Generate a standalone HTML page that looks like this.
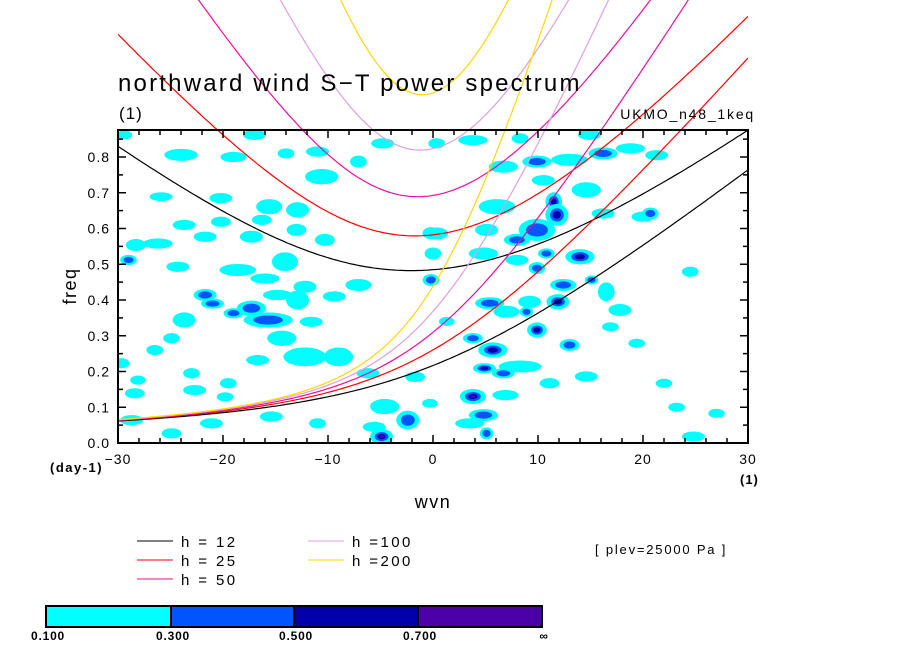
<!DOCTYPE html>
<html><head><meta charset="utf-8"><style>
body{margin:0;background:#fff;}
svg text{font-family:"Liberation Sans",sans-serif;}
</style></head><body>
<svg id="chart" width="904" height="654" viewBox="0 0 904 654" xmlns="http://www.w3.org/2000/svg">
<defs><clipPath id="plotclip"><rect x="118" y="0" width="630" height="443"/></clipPath>
<clipPath id="boxclip"><rect x="118" y="130" width="630" height="313"/></clipPath></defs>
<rect width="904" height="654" fill="#fff"/>
<g id="blobs" clip-path="url(#boxclip)"></g>
<g id="curves" clip-path="url(#plotclip)"></g>
<rect x="118" y="130" width="630" height="313" fill="none" stroke="#000" stroke-width="2"/>
<g id="ticks"></g>
<text x="118" y="91" font-size="24" letter-spacing="2.2">northward wind S−T power spectrum</text>
<text x="119" y="119" font-size="17" letter-spacing="1">(1)</text>
<text x="755" y="119" font-size="14" letter-spacing="1.8" text-anchor="end">UKMO_n48_1keq</text>
<text x="76" y="286" font-size="18" letter-spacing="1.5" transform="rotate(-90 76 286)" text-anchor="middle">freq</text>
<text x="433" y="508" font-size="18" letter-spacing="1.5" text-anchor="middle">wvn</text>
<text x="50" y="472" font-size="13" font-weight="bold" letter-spacing="1.5">(day-1)</text>
<text x="740" y="484" font-size="13" font-weight="bold" letter-spacing="1">(1)</text>
<g id="legend" font-size="15" letter-spacing="2.4">
 <line x1="137" y1="541" x2="173" y2="541" stroke="#000"/><text x="181" y="547">h = 12</text>
 <line x1="137" y1="560" x2="173" y2="560" stroke="#f00"/><text x="181" y="566">h = 25</text>
 <line x1="137" y1="579" x2="173" y2="579" stroke="#e0109a"/><text x="181" y="585">h = 50</text>
 <line x1="308" y1="541" x2="344" y2="541" stroke="#dda0dd"/><text x="352" y="547">h =100</text>
 <line x1="308" y1="560" x2="344" y2="560" stroke="#ffd700"/><text x="352" y="566">h =200</text>
</g>
<text x="595" y="554" font-size="13" letter-spacing="1.8">[ plev=25000 Pa ]</text>
<g id="cbar"></g>
</svg>
<script>
// ---- data ----
const depths = [12, 25, 50, 100, 200];
const depthColors = ["#000000", "#ff0000", "#e8109e", "#dda0dd", "#ffd700"];
const xTicks = [-30, -20, -10, 0, 10, 20, 30];
const yTicks = [0.0, 0.1, 0.2, 0.3, 0.4, 0.5, 0.6, 0.7, 0.8];
const levelLabels = ["0.100", "0.300", "0.500", "0.700", "∞"];
const levelColors = ["#00ffff", "#0055ff", "#0000aa", "#4c00a8"];
// contour patches: wavenumber, frequency, width (wvn), height (freq), level
const blobK = [-29.4,-24,-17,-19,-14,-10.6,-7.1,-4.8,-11,-25.9,-20.2,-15.6,-12.9,-16.3,-23.7,-20.2,-17.3,-13,-10.3,-28.3,-26.2,-21.7,-0.2,-24.3,-18.6,-14.1,-7.1,-12.2,-16,-29,-21.7,-21,-14.8,-12.9,-17.3,-19,-15.7,-23.7,-11.6,-9.4,-0.2,-14.4,-24.9,-12.2,-9,-16.7,-29.7,-26.5,-6.2,-23,-28.1,-19.5,-28.4,-22.7,-19.8,-1.7,-4.6,-2.4,-4.9,-5.6,-28.7,-24.9,-21.1,-15.4,-11,
 0.35,3.8,8.3,14.9,16.2,9.9,6.7,13,18.8,21.3,10.5,14.6,6.1,11.5,11.8,0.35,5.1,9.9,8,16.2,20,14,10.8,8,9.9,0,4.8,12.4,15.1,16.5,11.9,5.4,9.2,7,8.9,9.9,3.8,5.7,13,4.9,8.3,6.7,11.1,3.8,6.9,4.8,3.5,5.1,-0.3,17.8,24.5,19.4,14.6,22,23.2,27,24.8,16.9,20.7,1.3];
const blobF = [0.862,0.806,0.862,0.8,0.81,0.745,0.787,0.838,0.815,0.689,0.685,0.661,0.652,0.624,0.61,0.619,0.577,0.596,0.568,0.554,0.558,0.577,0.587,0.493,0.484,0.507,0.442,0.437,0.46,0.512,0.414,0.39,0.414,0.4,0.377,0.363,0.344,0.344,0.339,0.41,0.456,0.293,0.293,0.241,0.241,0.232,0.223,0.26,0.195,0.195,0.176,0.167,0.139,0.148,0.129,0.185,0.102,0.064,0.018,0.045,0.064,0.027,0.055,0.074,0.055,
 0.838,0.847,0.852,0.862,0.81,0.787,0.773,0.792,0.824,0.805,0.735,0.708,0.661,0.675,0.638,0.586,0.596,0.596,0.568,0.642,0.633,0.521,0.53,0.512,0.489,0.53,0.53,0.442,0.456,0.423,0.395,0.391,0.395,0.367,0.367,0.316,0.293,0.26,0.274,0.209,0.214,0.195,0.167,0.13,0.134,0.078,0.055,0.027,0.111,0.372,0.479,0.279,0.186,0.167,0.1,0.083,0.018,0.325,0.642,0.34];
const blobW = [1.2,2.9,1.9,2.2,1.3,2.9,1.3,1.9,1.9,1.9,1.9,2.2,1.9,1.6,1.9,1.6,1.9,1.6,1.6,1.6,2.5,1.9,1.3,1.9,3.2,2.2,2.2,1.9,2.5,1.3,1.9,1.9,2.5,1.9,2.5,1.6,4.4,1.9,1.9,1.9,1.3,2.5,1.3,3.8,2.5,1.9,1.3,1.3,1.9,1.3,1.2,1.3,1.6,1.9,1.3,1.6,2.5,1.9,1.9,1.9,1.9,1.6,1.9,1.9,1.3,
 1.3,2.5,1.3,1.9,2.5,2.5,2.5,3.2,2.5,1.9,1.9,2.5,3.2,1.3,1.9,1.9,1.9,3.2,2.2,1.9,1.9,2.5,1.3,1.9,1.3,1.3,2.5,2.2,1.0,1.3,1.9,2.5,1.9,2.2,1.0,1.6,1.6,2.5,1.6,1.9,3.8,1.9,1.6,2.2,2.2,2.5,2.5,1.0,1.2,1.9,1.3,1.3,1.9,1.3,1.3,1.3,1.9,1.3,1.3,1.2];
const blobH = [0.02,0.028,0.023,0.023,0.023,0.037,0.028,0.023,0.023,0.019,0.023,0.037,0.037,0.023,0.023,0.023,0.028,0.028,0.028,0.028,0.023,0.023,0.028,0.023,0.028,0.047,0.028,0.028,0.023,0.023,0.028,0.023,0.023,0.047,0.037,0.023,0.037,0.037,0.023,0.023,0.028,0.037,0.023,0.047,0.047,0.023,0.023,0.023,0.023,0.023,0.02,0.023,0.023,0.023,0.02,0.023,0.037,0.047,0.037,0.023,0.023,0.023,0.023,0.023,0.023,
 0.023,0.023,0.023,0.023,0.028,0.028,0.028,0.028,0.023,0.023,0.023,0.037,0.037,0.047,0.056,0.028,0.028,0.056,0.028,0.023,0.023,0.037,0.023,0.023,0.028,0.028,0.028,0.028,0.02,0.047,0.037,0.028,0.028,0.028,0.023,0.037,0.023,0.037,0.028,0.023,0.028,0.023,0.023,0.037,0.023,0.028,0.023,0.028,0.02,0.028,0.023,0.02,0.023,0.02,0.02,0.02,0.023,0.02,0.028,0.02];
const blobL = [1,1,1,1,1,1,1,1,1,1,1,1,1,1,1,1,1,1,1,1,1,1,2,1,1,1,1,1,1,2,2,2,1,1,2,2,2,1,1,1,2,1,1,1,1,1,1,1,1,1,1,1,1,1,1,1,1,2,4,1,1,1,1,1,1,
 1,1,1,1,2,2,1,1,1,1,1,1,1,3,3,1,1,2,2,1,1,3,2,1,2,1,1,2,2,1,3,2,1,1,2,3,2,3,2,3,1,2,1,4,1,2,1,2,1,1,1,1,1,1,1,1,1,1,2,1];

// ---- axes ----
const X0=118, X1=748, Y0=443, YT=130;
const xs = k => X0 + (k + 30) / 60 * (X1 - X0);
const ys = f => Y0 - f * 357.5;
const NS = "http://www.w3.org/2000/svg";
function mk(tag, attrs, parent){ const e=document.createElementNS(NS,tag); for(const a in attrs) e.setAttribute(a, attrs[a]); parent.appendChild(e); return e; }

// blobs
const bg = document.getElementById('blobs');
for (let i=0;i<blobK.length;i++){
  const cx=xs(blobK[i]), cy=ys(blobF[i]);
  const rx=blobW[i]*10.5/2+1.5, ry=blobH[i]*357.5/2+1;
  const scales=[1,0.6,0.35,0.2];
  for (let l=0;l<blobL[i];l++){
    const e=mk('ellipse',{cx:cx,cy:cy,rx:rx*scales[l],ry:ry*scales[l],fill:levelColors[l]},bg);
    
    
  }
}

// dispersion curves
const g=9.81, beta=2.29e-11, a=6.371e6, toCpd=86400/(2*Math.PI);
function eig(k,c){
  const B=k*k*c*c+5*beta*c, C=k*beta*c*c;
  let w=Math.sqrt(B);
  for(let i=0;i<30;i++){ w-= (w*w*w-B*w-C)/(3*w*w-B); }
  return w;
}
function mrg(k,c){ return k*c/2+Math.sqrt(k*k*c*c/4+beta*c); }
const cg=document.getElementById('curves');
depths.forEach((h,j)=>{
  const c=Math.sqrt(g*h);
  [eig,mrg].forEach((fn,m)=>{
    let d='';
    for(let s=-30;s<=30.001;s+=0.25){
      const f=fn(s/a,c)*toCpd;
      d+=(d?'L':'M')+xs(s).toFixed(1)+','+ys(f).toFixed(1);
    }
    const p=mk('path',{d:d,fill:'none',stroke:depthColors[j],'stroke-width':1.2},cg);
    
    
  });
});

// ticks
const tg=document.getElementById('ticks');
for(let s=-30;s<=30;s+=2){
  const L=(s%10===0)?8:5, x=xs(s);
  mk('line',{x1:x,y1:Y0,x2:x,y2:Y0-L,stroke:'#000','stroke-width':1.5},tg);
  mk('line',{x1:x,y1:YT,x2:x,y2:YT+L,stroke:'#000','stroke-width':1.5},tg);
}
for(let i=0;i<=17;i++){
  const f=i*0.05, y=ys(f), L=(i%2===0)?8:5;
  if(y<YT) continue;
  mk('line',{x1:X0,y1:y,x2:X0+L,y2:y,stroke:'#000','stroke-width':1.5},tg);
  mk('line',{x1:X1,y1:y,x2:X1-L,y2:y,stroke:'#000','stroke-width':1.5},tg);
}
xTicks.forEach(v=>{
  const t=mk('text',{x:xs(v),y:464,'font-size':14,'letter-spacing':1,'text-anchor':'middle'},tg);
  t.textContent=(v<0?'−':'')+Math.abs(v);
  
  
});
yTicks.forEach(v=>{
  const t=mk('text',{x:110,y:ys(v)+5,'font-size':14,'letter-spacing':1,'text-anchor':'end'},tg);
  t.textContent=v.toFixed(1);
  
  
});

// colorbar
const cb=document.getElementById('cbar');
const cbX=[46,171,294,418,542];
levelColors.forEach((col,i)=>{
  const r=mk('rect',{x:cbX[i],y:606,width:cbX[i+1]-cbX[i],height:21,fill:col,stroke:'#000','stroke-width':2},cb);
  
  
});
levelLabels.forEach((lab,i)=>{
  const t=mk('text',{x:cbX[i]+2,y:640,'font-size':12,'font-weight':'bold','letter-spacing':0.8,'text-anchor':'middle'},cb);
  t.textContent=lab;
  
  
});
</script>
</body></html>
